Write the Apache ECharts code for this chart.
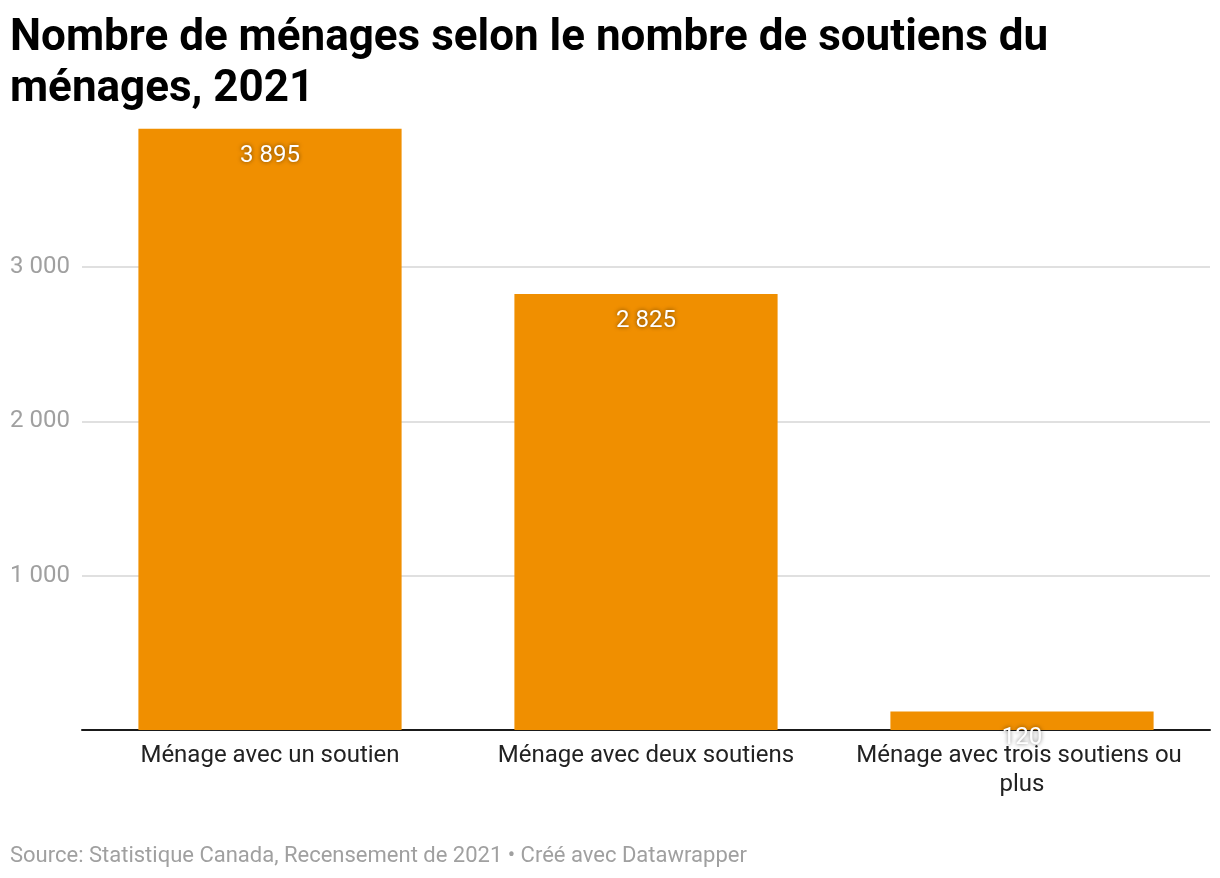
<!DOCTYPE html>
<html>
<head>
<meta charset="utf-8">
<title>Nombre de ménages selon le nombre de soutiens du ménages, 2021</title>
<script src="https://cdn.jsdelivr.net/npm/echarts@6/dist/echarts.min.js"></script>
<style>
    html, body { margin: 0; padding: 0; background: #fff; }
    #chart { width: 1220px; height: 878px; }
</style>
</head>
<body>
<div id="chart"></div>
<script>
    // données
    var categories = ['Ménage avec un soutien', 'Ménage avec deux soutiens', 'Ménage avec trois soutiens ou plus']
    var values = [3895, 2825, 120]
    var yTicks = [0, 1000, 2000, 3000]

    // 3895 -> "3 895"
    function fmt(n) {
        return String(n).replace(/\B(?=(\d{3})+(?!\d))/g, ' ')
    }

    var chart = echarts.init(document.getElementById('chart'))
    var option = {
        animation: false,
        textStyle: { fontFamily: 'Roboto' },
        title: {
            text: 'Nombre de ménages selon le nombre de soutiens du\nménages, 2021',
            left: 5,
            top: 8,
            textStyle: {
                fontFamily: 'Roboto',
                fontSize: 44,
                fontWeight: 'bold',
                color: '#000',
                lineHeight: 51
            }
        },
        graphic: [{
            type: 'text',
            left: 10,
            top: 845,
            style: {
                text: 'Source: Statistique Canada, Recensement de 2021 • Créé avec Datawrapper',
                fontFamily: 'Roboto',
                fontSize: 22,
                fill: '#a0a0a0'
            }
        }],
        grid: { left: 82, right: 10, top: 128, bottom: 148, containLabel: false },
        xAxis: {
            type: 'category',
            data: categories,
            axisLine: { lineStyle: { color: '#1a1a1a', width: 2 } },
            axisTick: { show: false },
            axisLabel: {
                color: '#222',
                fontSize: 24,
                lineHeight: 29,
                margin: 11,
                width: 350,
                overflow: 'break',
                interval: 0
            },
            z: 10
        },
        yAxis: {
            type: 'value',
            min: 0,
            max: 3900,
            interval: 1000,
            axisLine: { show: false },
            axisTick: { show: false },
            splitLine: { showMaxLine: false, lineStyle: { color: '#e0e0e0', width: 2 } },
            axisLabel: {
                color: '#a0a0a0',
                fontSize: 24,
                align: 'left',
                margin: 72,
                formatter: function (v) {
                    return yTicks.indexOf(v) > 0 ? fmt(v) : ''
                }
            }
        },
        series: [{
            type: 'bar',
            data: values,
            barWidth: '70%',
            itemStyle: { color: '#f08f00' },
            label: {
                show: true,
                position: 'insideTop',
                distance: 15,
                color: '#fff',
                fontSize: 24,
                textShadowColor: 'rgba(0,0,0,0.55)',
                textShadowBlur: 4,
                formatter: function (p) { return fmt(p.value) }
            },
            z: 20
        }]
    }
    chart.setOption(option)
</script>
</body>
</html>
